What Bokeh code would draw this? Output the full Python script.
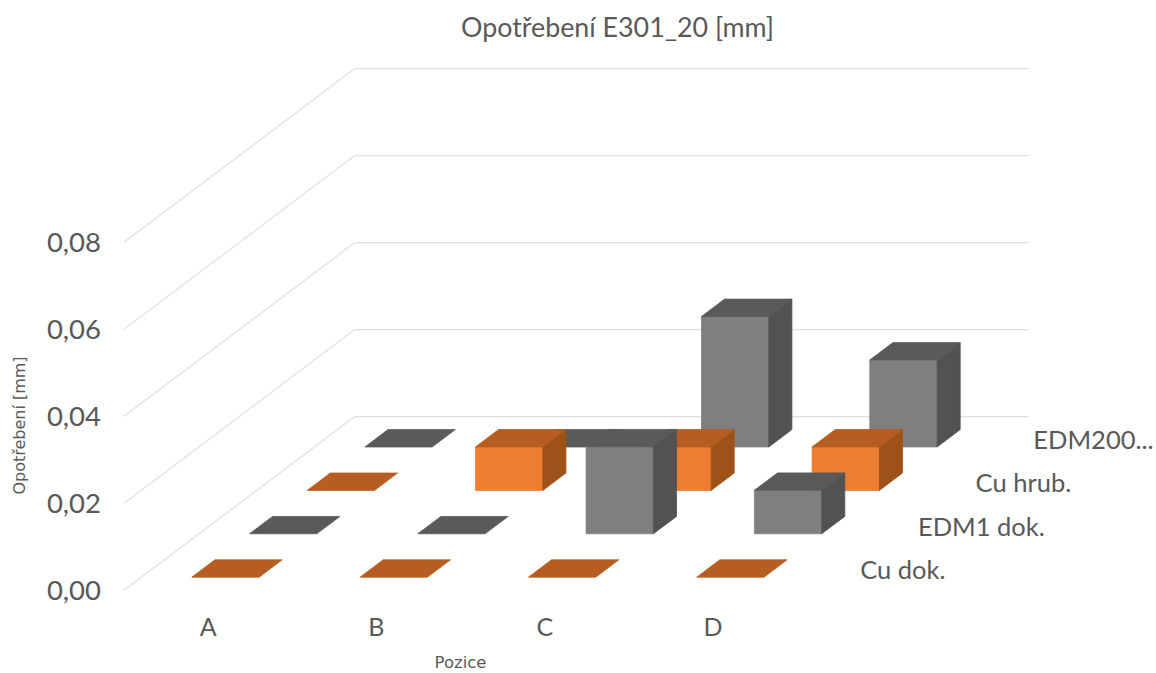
from bokeh.embed import file_html
from bokeh.resources import INLINE
from bokeh.plotting import figure
from bokeh.models import Range1d
from bokeh.core.properties import value

TITLE = "Opotřebení E301_20 [mm]"
Y_TITLE = "Opotřebení [mm]"
X_TITLE = "Pozice"
categories = ["A", "B", "C", "D"]
series_names = ["Cu dok.", "EDM1 dok.", "Cu hrub.", "EDM200..."]
cu_dok = [0.00, 0.00, 0.00, 0.00]
edm1_dok = [0.00, 0.00, 0.02, 0.01]
cu_hrub = [0.00, 0.01, 0.01, 0.01]
edm200 = [0.00, 0.00, 0.03, 0.02]
all_series = [cu_dok, edm1_dok, cu_hrub, edm200]
y_ticks = [0.00, 0.02, 0.04, 0.06, 0.08]
y_tick_labels = ["0,00", "0,02", "0,04", "0,06", "0,08"]

# 3D projection of the chart's (category, series, value) space onto the page
OX, OY = 123.5, 589.7      # front-left floor corner
CAT_DX = 168.3             # one category along x
SER_DX, SER_DY = 57.7, 43.4  # one series in depth
VAL_DY = 87.0 / 0.02       # pixels per unit of value
BAR_W = 0.4                # bar width, in categories
BAR_D = 0.4                # bar depth, in series
CAT_PAD = 0.30
SER_PAD = 0.30
N_CAT, N_SER = len(categories), len(series_names)

def proj(c, s, v):
    return (OX + c * CAT_DX + s * SER_DX, OY - s * SER_DY - v * VAL_DY)

def poly(*pts):
    xs, ys = zip(*[proj(*q) for q in pts])
    return list(xs), list(ys)

W, H = 1156, 673
p = figure(width=W, height=H, x_range=Range1d(0, W), y_range=Range1d(H, 0),
           toolbar_location=None, output_backend="svg", min_border=0, outline_line_color=None)
p.xaxis.visible = False
p.yaxis.visible = False
p.grid.visible = False
p.background_fill_color = "white"

GRID = "#e0e0e0"
wall_end = (1028 - OX - N_SER * SER_DX) / CAT_DX
gx, gy = [], []
for t in y_ticks:
    xs, ys = poly((0, 0, t), (0, N_SER, t), (wall_end, N_SER, t))
    gx.append(xs); gy.append(ys)
p.multi_line(gx, gy, line_color=GRID, line_width=1.2)

PALETTE = [
    ("#ED7D31", "#B55D22", "#9E5119"),
    ("#7F7F7F", "#5A5A5A", "#525252"),
]

for s in reversed(range(N_SER)):
    front, top, side = PALETTE[s % 2]
    vals = all_series[s]
    for c, v in enumerate(vals):
        l, r = c + CAT_PAD, c + CAT_PAD + BAR_W
        f, b = s + SER_PAD, s + SER_PAD + BAR_D
        if v > 0:
            xs, ys = poly((l, f, 0), (r, f, 0), (r, f, v), (l, f, v))
            p.patch(xs, ys, fill_color=front, line_color=front, line_width=0.8)
            xs, ys = poly((r, f, 0), (r, b, 0), (r, b, v), (r, f, v))
            p.patch(xs, ys, fill_color=side, line_color=side, line_width=0.8)
        xs, ys = poly((l, f, v), (r, f, v), (r, b, v), (l, b, v))
        p.patch(xs, ys, fill_color=top, line_color=top, line_width=0.8)

FONT = value("Lato")
TXT = "#595959"

# value axis labels
lx, ly = [], []
for t in y_ticks:
    x, y = proj(0, 0, t)
    lx.append(x - 23); ly.append(y)
p.text(lx, ly, text=y_tick_labels, text_font=FONT, text_font_size="27.5px", text_color=TXT,
       text_align="right", text_baseline="middle")

# category labels
cx, cy = [], []
for c in range(N_CAT):
    x, y = proj(c + 0.5, 0, 0)
    cx.append(x); cy.append(y + 36)
p.text(cx, cy, text=categories, text_font=FONT, text_font_size="25px", text_color=TXT,
       text_align="center", text_baseline="middle")

# series labels
sx, sy = [], []
for s in range(N_SER):
    x, y = proj(N_CAT, s, 0)
    sx.append(x + 63); sy.append(y - 21)
p.text(sx, sy, text=series_names, text_font=FONT, text_font_size="25.5px", text_color=TXT,
       text_align="left", text_baseline="middle")

p.text([617], [26], text=[TITLE], text_font=FONT, text_font_size="26.8px", text_color=TXT,
       text_align="center", text_baseline="middle")
p.text([460], [662], text=[X_TITLE], text_font=value("DejaVu Sans"), text_font_size="16.5px", text_color=TXT,
       text_align="center", text_baseline="middle")
p.text([19], [425], text=[Y_TITLE], text_font=value("DejaVu Sans"), text_font_size="16px", text_color=TXT,
       angle=1.5708, text_align="center", text_baseline="middle")

open("out.html", "w").write(file_html(p, INLINE))
